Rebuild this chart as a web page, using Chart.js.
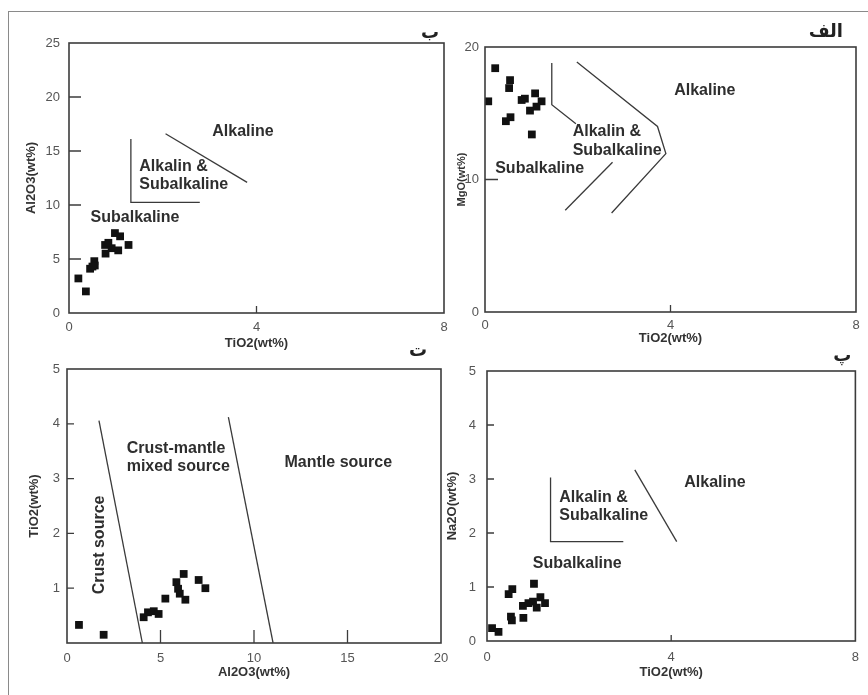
<!DOCTYPE html>
<html>
<head>
<meta charset="utf-8">
<script src="https://cdn.jsdelivr.net/npm/chart.js@4.4.1/dist/chart.umd.min.js"></script>
<style>
    body { margin: 0; background: #fff; }
    #page { position: relative; width: 868px; height: 695px; overflow: hidden; }
    #page canvas { position: absolute; left: 0; top: 0; }
    .outer { position: absolute; left: 8px; top: 11px; width: 870px; height: 700px;
             border-top: 1px solid #8a8a8a; border-left: 1px solid #8a8a8a; }
</style>
</head>
<body>
<div id="page">
    <div class="outer"></div>
    <canvas id="chartB" width="868" height="695"></canvas>
    <canvas id="chartAlef" width="868" height="695"></canvas>
    <canvas id="chartTe" width="868" height="695"></canvas>
    <canvas id="chartPe" width="868" height="695"></canvas>
</div>
<script>
// --- Data (wt%) ---
// ب : Al2O3 vs TiO2
const bTiO2  = [0.20, 0.36, 0.45, 0.54, 0.55, 0.50, 0.78, 0.77, 0.98, 1.09, 0.91, 1.05, 1.27, 0.84];
const bAl2O3 = [3.2, 2.0, 4.1, 4.8, 4.4, 4.3, 5.5, 6.3, 7.4, 7.1, 6.0, 5.8, 6.3, 6.5];

// الف : MgO vs TiO2
const alefTiO2 = [0.22, 0.07, 0.54, 0.52, 0.79, 0.86, 1.08, 1.22, 0.97, 1.11, 0.45, 0.55, 1.01];
const alefMgO  = [18.4, 15.9, 17.5, 16.9, 16.0, 16.1, 16.5, 15.9, 15.2, 15.5, 14.4, 14.7, 13.4];

// ت : TiO2 vs Al2O3
const teAl2O3 = [0.64, 1.96, 4.10, 4.33, 4.64, 4.90, 5.26, 5.85, 5.94, 6.03, 6.24, 6.33, 7.04, 7.40];
const teTiO2  = [0.33, 0.15, 0.47, 0.56, 0.58, 0.53, 0.81, 1.11, 0.99, 0.90, 1.26, 0.79, 1.15, 1.00];

// پ : Na2O vs TiO2
const peTiO2 = [0.11, 0.25, 0.47, 0.55, 1.02, 0.52, 0.54, 0.79, 0.78, 0.90, 1.00, 1.08, 1.16, 1.26];
const peNa2O = [0.24, 0.17, 0.87, 0.96, 1.06, 0.45, 0.38, 0.43, 0.65, 0.70, 0.73, 0.62, 0.81, 0.70];

// Field boundaries [x, y]
const bBoundary1 = [[1.32, 16.1], [1.32, 10.25], [2.79, 10.25]];
const bBoundary2 = [[2.06, 16.6], [3.80, 12.1]];

const alefBoundary1 = [[1.44, 18.8], [1.44, 15.65], [1.96, 14.2]];
const alefBoundary2 = [[2.75, 11.3], [1.73, 7.68]];
const alefBoundary3 = [[1.98, 18.87], [3.72, 14.0], [3.90, 11.95], [2.73, 7.47]];

const teBoundary1 = [[1.71, 4.06], [4.03, 0]];
const teBoundary2 = [[8.63, 4.12], [11.02, 0]];

const peBoundary1 = [[1.38, 3.03], [1.38, 1.84], [2.96, 1.84]];
const peBoundary2 = [[3.21, 3.17], [4.12, 1.84]];

// Tick labels
const tickTiO2Wide = [0, 4, 8];
const tickAl2O3B = [0, 5, 10, 15, 20, 25];
const tickMgO = [0, 10, 20];
const tickAl2O3Te = [0, 5, 10, 15, 20];
const tickTiO2Te = [1, 2, 3, 4, 5];
const tickNa2O = [0, 1, 2, 3, 4, 5];

const FONT = '"Liberation Sans", Arial, "DejaVu Sans", sans-serif';

const toXY = (xs, ys) => xs.map((x, i) => ({ x: x, y: ys[i] }));
const pairs = arr => arr.map(p => ({ x: p[0], y: p[1] }));

// frame, inner tick marks, field names and panel letter
const diagramPlugin = {
    id: 'diagram',
    afterDatasetsDraw(chart, args, opts) {
        const { ctx, chartArea: a, scales: { x, y } } = chart;
        ctx.save();
        ctx.strokeStyle = '#3c3c3c';
        ctx.lineWidth = 1.6;
        ctx.strokeRect(a.left, a.top, a.right - a.left, a.bottom - a.top);

        ctx.lineWidth = 1.3;
        ctx.beginPath();
        opts.innerX.forEach(v => {
            const px = x.getPixelForValue(v);
            ctx.moveTo(px, a.bottom);
            ctx.lineTo(px, a.bottom - opts.lenX);
        });
        opts.innerY.forEach(v => {
            const py = y.getPixelForValue(v);
            ctx.moveTo(a.left, py);
            ctx.lineTo(a.left + opts.lenY, py);
        });
        ctx.stroke();

        ctx.fillStyle = '#2e2e2e';
        ctx.font = 'bold 16px ' + FONT;
        ctx.textBaseline = 'middle';
        opts.labels.forEach(l => {
            const px = x.getPixelForValue(l.x);
            const py = y.getPixelForValue(l.y);
            ctx.textAlign = l.align || 'left';
            if (l.rotate) {
                ctx.save();
                ctx.translate(px, py);
                ctx.rotate(-Math.PI / 2);
                ctx.textAlign = 'center';
                ctx.fillText(l.text, 0, 0);
                ctx.restore();
            } else {
                ctx.fillText(l.text, px, py);
            }
        });

        ctx.font = 'bold 18px "DejaVu Sans", sans-serif';
        ctx.textAlign = 'right';
        ctx.fillStyle = '#222';
        ctx.fillText(opts.letter, a.right - opts.letterDx, a.top - opts.letterDy);
        ctx.restore();
    }
};

function makeDiagram(id, cfg) {
    const lineSets = cfg.boundaries.map(b => ({
        data: pairs(b),
        showLine: true,
        borderColor: '#3a3a3a',
        borderWidth: 1.3,
        pointRadius: 0,
        tension: 0,
        fill: false
    }));

    const tickFont = { family: FONT, size: 13 };
    const titleFont = size => ({ family: FONT, size: size, weight: 'bold' });

    new Chart(document.getElementById(id), {
        type: 'scatter',
        data: {
            datasets: [{
                data: cfg.points,
                pointStyle: 'rect',
                pointRadius: 5.5,
                backgroundColor: '#111',
                borderWidth: 0
            }, ...lineSets]
        },
        options: {
            responsive: false,
            animation: false,
            devicePixelRatio: 1,
            layout: {
                padding: {
                    left: cfg.area.l - cfg.yW,
                    top: cfg.area.t,
                    right: 868 - cfg.area.r,
                    bottom: 695 - cfg.area.b - cfg.xH
                }
            },
            plugins: {
                legend: { display: false },
                tooltip: { enabled: false },
                diagram: cfg.diagram
            },
            scales: {
                x: {
                    type: 'linear',
                    min: cfg.xMin, max: cfg.xMax,
                    afterBuildTicks: s => { s.ticks = cfg.xTicks.map(v => ({ value: v })); },
                    afterFit: s => { s.height = cfg.xH; },
                    grid: { display: false, drawTicks: false },
                    border: { display: false },
                    ticks: { color: '#555', font: tickFont, padding: cfg.xPad, maxRotation: 0, autoSkip: false },
                    title: { display: true, text: cfg.xTitle, color: '#333', font: titleFont(13), padding: 0 }
                },
                y: {
                    type: 'linear',
                    min: cfg.yMin, max: cfg.yMax,
                    afterBuildTicks: s => { s.ticks = cfg.yTicks.map(v => ({ value: v })); },
                    afterFit: s => { s.width = cfg.yW; },
                    grid: { display: false, drawTicks: false },
                    border: { display: false },
                    ticks: { color: '#555', font: tickFont, padding: cfg.yPad, autoSkip: false },
                    title: { display: true, text: cfg.yTitle, color: '#333', font: titleFont(cfg.yTitleSize || 13), padding: 0 }
                }
            }
        },
        plugins: [diagramPlugin]
    });
}

document.addEventListener('DOMContentLoaded', () => {
    makeDiagram('chartB', {
        points: toXY(bTiO2, bAl2O3),
        boundaries: [bBoundary1, bBoundary2],
        area: { l: 69, t: 43, r: 444, b: 313 },
        xH: 38, yW: 45, xPad: 7, yPad: 9,
        xMin: 0, xMax: 8, yMin: 0, yMax: 25,
        xTicks: tickTiO2Wide, yTicks: tickAl2O3B,
        xTitle: 'TiO2(wt%)', yTitle: 'Al2O3(wt%)',
        diagram: {
            innerX: [4], lenX: 7, innerY: [5, 10, 15, 20], lenY: 12,
            letter: 'ب', letterDx: 5, letterDy: 10,
            labels: [
                { text: 'Alkaline', x: 3.71, y: 16.8, align: 'center' },
                { text: 'Alkalin &', x: 1.50, y: 13.6 },
                { text: 'Subalkaline', x: 1.50, y: 11.9 },
                { text: 'Subalkaline', x: 0.46, y: 8.8 }
            ]
        }
    });

    makeDiagram('chartAlef', {
        points: toXY(alefTiO2, alefMgO),
        boundaries: [alefBoundary1, alefBoundary2, alefBoundary3],
        area: { l: 485, t: 47, r: 856, b: 312 },
        xH: 34, yW: 30, xPad: 6, yPad: 6,
        xMin: 0, xMax: 8, yMin: 0, yMax: 20,
        xTicks: tickTiO2Wide, yTicks: tickMgO,
        xTitle: 'TiO2(wt%)', yTitle: 'MgO(wt%)', yTitleSize: 11,
        diagram: {
            innerX: [4], lenX: 7, innerY: [10], lenY: 13,
            letter: 'الف', letterDx: 13, letterDy: 15,
            labels: [
                { text: 'Alkaline', x: 4.74, y: 16.7, align: 'center' },
                { text: 'Alkalin &', x: 1.89, y: 13.6 },
                { text: 'Subalkaline', x: 1.89, y: 12.2 },
                { text: 'Subalkaline', x: 0.22, y: 10.85 }
            ]
        }
    });

    makeDiagram('chartTe', {
        points: toXY(teAl2O3, teTiO2),
        boundaries: [teBoundary1, teBoundary2],
        area: { l: 67, t: 369, r: 441, b: 643 },
        xH: 37, yW: 40, xPad: 8, yPad: 7,
        xMin: 0, xMax: 20, yMin: 0, yMax: 5,
        xTicks: tickAl2O3Te, yTicks: tickTiO2Te,
        xTitle: 'Al2O3(wt%)', yTitle: 'TiO2(wt%)',
        diagram: {
            innerX: [5, 10, 15], lenX: 13, innerY: [1, 2, 3, 4], lenY: 7,
            letter: 'ت', letterDx: 14, letterDy: 18,
            labels: [
                { text: 'Crust-mantle', x: 3.19, y: 3.54 },
                { text: 'mixed source', x: 3.19, y: 3.21 },
                { text: 'Mantle source', x: 14.51, y: 3.30, align: 'center' },
                { text: 'Crust source', x: 1.76, y: 1.79, rotate: true }
            ]
        }
    });

    makeDiagram('chartPe', {
        points: toXY(peTiO2, peNa2O),
        boundaries: [peBoundary1, peBoundary2],
        area: { l: 487, t: 371, r: 858, b: 641 },
        xH: 39, yW: 42, xPad: 9, yPad: 11,
        xMin: 0, xMax: 8, yMin: 0, yMax: 5,
        xTicks: tickTiO2Wide, yTicks: tickNa2O,
        xTitle: 'TiO2(wt%)', yTitle: 'Na2O(wt%)',
        diagram: {
            innerX: [4], lenX: 6, innerY: [1, 2, 3, 4], lenY: 7,
            letter: 'پ', letterDx: 4, letterDy: 15,
            labels: [
                { text: 'Alkaline', x: 4.95, y: 2.94, align: 'center' },
                { text: 'Alkalin &', x: 1.57, y: 2.66 },
                { text: 'Subalkaline', x: 1.57, y: 2.32 },
                { text: 'Subalkaline', x: 1.96, y: 1.44, align: 'center' }
            ]
        }
    });
});
</script>
</body>
</html>
